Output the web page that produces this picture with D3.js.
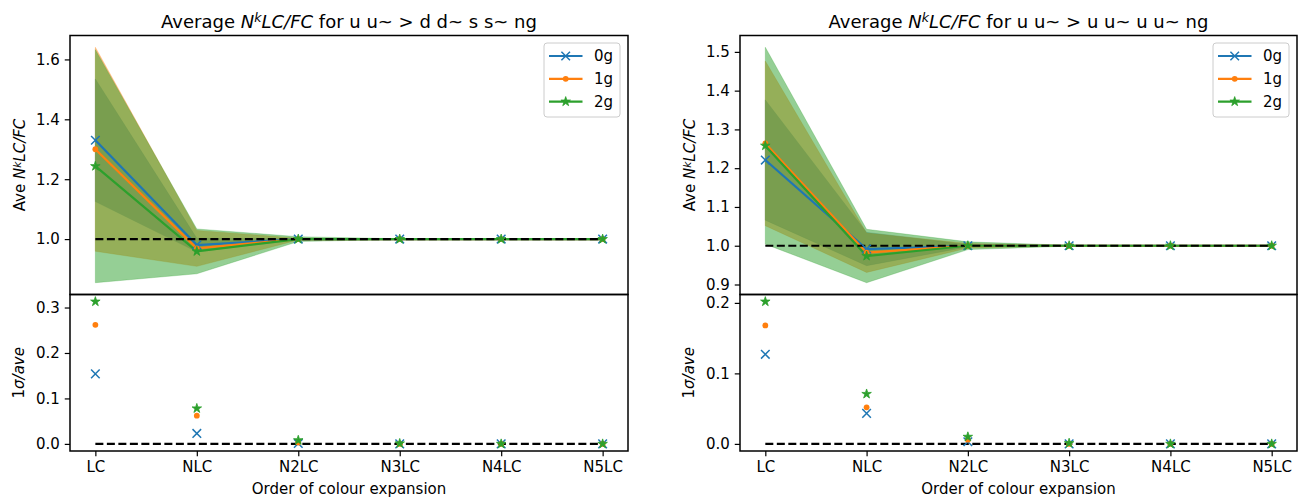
<!DOCTYPE html>
<html lang="en">
<head>
<meta charset="UTF-8">
<title>Average NkLC/FC</title>
<script src="https://d3js.org/d3.v7.min.js"></script>
<style>
  body { margin: 0; background: #fff; }
  svg text { font-family: "DejaVu Sans", sans-serif; fill: #000; }
  .tick text { font-size: 15px; }
</style>
</head>
<body>
<svg id="chart" width="1299" height="498"></svg>
<script>
const orders = ['LC', 'NLC', 'N2LC', 'N3LC', 'N4LC', 'N5LC'];
const seriesNames = ['0g', '1g', '2g'];
const colors = ['#1f77b4', '#ff7f0e', '#2ca02c'];

// u u~ > d d~ s s~ ng : average and 1 sigma / average
const ddssAve0g = [1.330, 0.980, 1.000, 1.000, 1.000, 1.000];
const ddssAve1g = [1.300, 0.969, 1.000, 1.000, 1.000, 1.000];
const ddssAve2g = [1.2435, 0.959, 1.000, 1.000, 1.000, 1.000];
const ddssRel0g = [0.154, 0.023, 0.001, 0.000, 0.000, 0.000];
const ddssRel1g = [0.262, 0.062, 0.003, 0.000, 0.000, 0.000];
const ddssRel2g = [0.313, 0.078, 0.008, 0.001, 0.000, 0.000];

// u u~ > u u~ u u~ ng
const uuuuAve0g = [1.221, 0.9915, 1.000, 1.000, 1.000, 1.000];
const uuuuAve1g = [1.264, 0.982, 1.000, 1.000, 1.000, 1.000];
const uuuuAve2g = [1.258, 0.9735, 1.000, 1.000, 1.000, 1.000];
const uuuuRel0g = [0.127, 0.0433, 0.003, 0.000, 0.000, 0.000];
const uuuuRel1g = [0.168, 0.0518, 0.006, 0.000, 0.000, 0.000];
const uuuuRel2g = [0.2018, 0.0708, 0.010, 0.001, 0.000, 0.000];

const ddssUpperTicks = [1.0, 1.2, 1.4, 1.6];
const ddssLowerTicks = [0.0, 0.1, 0.2, 0.3];
const uuuuUpperTicks = [0.9, 1.0, 1.1, 1.2, 1.3, 1.4, 1.5];
const uuuuLowerTicks = [0.0, 0.1, 0.2];

const svg = d3.select('#chart');
const top0 = 35.5, mid = 294.5, bottom = 451;

const panels = [
  { x0: 70, x1: 628, proc: 'u u~ > d d~ s s~ ng',
    ave: [ddssAve0g, ddssAve1g, ddssAve2g], rel: [ddssRel0g, ddssRel1g, ddssRel2g],
    upTicks: ddssUpperTicks, lowTicks: ddssLowerTicks },
  { x0: 740, x1: 1297, proc: 'u u~ > u u~ u u~ ng',
    ave: [uuuuAve0g, uuuuAve1g, uuuuAve2g], rel: [uuuuRel0g, uuuuRel1g, uuuuRel2g],
    upTicks: uuuuUpperTicks, lowTicks: uuuuLowerTicks }
];

function padded(lo, hi) {
  const m = (hi - lo) * 0.05;
  return [lo - m, hi + m];
}

function starPath(R) {
  const pts = [];
  for (let i = 0; i < 10; i++) {
    const a = -Math.PI / 2 + i * Math.PI / 5;
    const r = i % 2 === 0 ? R : R * 0.381966;
    pts.push([r * Math.cos(a), r * Math.sin(a)]);
  }
  return 'M' + pts.map(p => p.join(',')).join('L') + 'Z';
}

// draw one marker of series k at (cx, cy)
function marker(g, k, cx, cy) {
  if (k === 0) {
    const s = 4.3;
    g.append('path')
      .attr('d', `M${cx - s},${cy - s}L${cx + s},${cy + s}M${cx - s},${cy + s}L${cx + s},${cy - s}`)
      .attr('stroke', colors[0]).attr('stroke-width', 1.5).attr('fill', 'none');
  } else if (k === 1) {
    g.append('circle').attr('cx', cx).attr('cy', cy).attr('r', 2.9).attr('fill', colors[1]);
  } else {
    g.append('path').attr('d', starPath(5)).attr('transform', `translate(${cx},${cy})`)
      .attr('fill', colors[2]).attr('stroke', colors[2]).attr('stroke-width', 0.8);
  }
}

function mathLabel(t, parts) {
  // parts: [text, italic, superscript]
  parts.forEach(([s, it, sup], i) => {
    const ts = t.append('tspan').text(s);
    if (it) ts.attr('font-style', 'italic');
    if (sup) ts.attr('dy', '-0.4em').attr('font-size', '0.7em');
    if (i > 0 && parts[i - 1][2]) ts.attr('dy', '0.28em');
  });
}

panels.forEach(p => {
  const x = d3.scalePoint().domain(orders).range([p.x0, p.x1]).padding(0.25);

  const bands = p.ave.map((a, k) => a.map((v, i) => [v * (1 - p.rel[k][i]), v * (1 + p.rel[k][i])]));
  const upLo = d3.min(bands.flat().map(d => d[0]).concat(p.ave.flat()));
  const upHi = d3.max(bands.flat().map(d => d[1]).concat(p.ave.flat()));
  const yU = d3.scaleLinear().domain(padded(upLo, upHi)).range([mid, top0]);
  const yL = d3.scaleLinear().domain(padded(0, d3.max(p.rel.flat()))).range([bottom, mid]);

  const gU = svg.append('g');
  const gL = svg.append('g');

  // bands
  bands.forEach((b, k) => {
    const area = d3.area().x((d, i) => x(orders[i])).y0(d => yU(d[0])).y1(d => yU(d[1]));
    gU.append('path').attr('d', area(b)).attr('fill', colors[k]).attr('fill-opacity', 0.5)
      .attr('stroke', colors[k]).attr('stroke-opacity', 0.5).attr('stroke-width', 0.5);
  });
  // lines
  p.ave.forEach((a, k) => {
    const line = d3.line().x((d, i) => x(orders[i])).y(d => yU(d));
    gU.append('path').attr('d', line(a)).attr('fill', 'none')
      .attr('stroke', colors[k]).attr('stroke-width', 2.2);
  });
  // reference line
  gU.append('line').attr('x1', x(orders[0])).attr('x2', x(orders[orders.length - 1]))
    .attr('y1', yU(1)).attr('y2', yU(1)).attr('stroke', '#000').attr('stroke-width', 2.2)
    .attr('stroke-dasharray', '8,3.5');
  p.ave.forEach((a, k) => a.forEach((v, i) => marker(gU, k, x(orders[i]), yU(v))));

  // lower
  gL.append('line').attr('x1', x(orders[0])).attr('x2', x(orders[orders.length - 1]))
    .attr('y1', yL(0)).attr('y2', yL(0)).attr('stroke', '#000').attr('stroke-width', 2.2)
    .attr('stroke-dasharray', '8,3.5');
  p.rel.forEach((r, k) => r.forEach((v, i) => marker(gL, k, x(orders[i]), yL(v))));

  // axes
  const axU = svg.append('g').attr('transform', `translate(${p.x0},0)`)
    .call(d3.axisLeft(yU).tickValues(p.upTicks).tickFormat(d3.format('.1f')).tickSize(5.25).tickPadding(5));
  const axL = svg.append('g').attr('transform', `translate(${p.x0},0)`)
    .call(d3.axisLeft(yL).tickValues(p.lowTicks).tickFormat(d3.format('.1f')).tickSize(5.25).tickPadding(5));
  const axX = svg.append('g').attr('transform', `translate(0,${bottom})`)
    .call(d3.axisBottom(x).tickSize(5.25).tickPadding(5));
  [axU, axL, axX].forEach(a => {
    a.select('.domain').remove();
    a.selectAll('.tick line').attr('stroke-width', 1.2);
    a.selectAll('.tick text').attr('font-family', '"DejaVu Sans", sans-serif');
  });

  // spines
  [[top0, mid], [mid, bottom]].forEach(([a, b]) => {
    svg.append('rect').attr('x', p.x0).attr('y', a).attr('width', p.x1 - p.x0).attr('height', b - a)
      .attr('fill', 'none').attr('stroke', '#000').attr('stroke-width', 1.5);
  });

  // title
  const title = svg.append('text').attr('x', (p.x0 + p.x1) / 2).attr('y', 27.5)
    .attr('text-anchor', 'middle').attr('font-size', 18);
  mathLabel(title, [['Average ', false, false], ['N', true, false], ['k', true, true],
    ['LC/FC', true, false], [' for ' + p.proc, false, false]]);

  // y labels
  const yl1 = svg.append('text').attr('transform', `translate(${p.x0 - 45},${(top0 + mid) / 2}) rotate(-90)`)
    .attr('text-anchor', 'middle').attr('font-size', 15);
  mathLabel(yl1, [['Ave ', false, false], ['N', true, false], ['k', true, true], ['LC/FC', true, false]]);
  const yl2 = svg.append('text').attr('transform', `translate(${p.x0 - 46},${(mid + bottom) / 2}) rotate(-90)`)
    .attr('text-anchor', 'middle').attr('font-size', 15);
  mathLabel(yl2, [['1', false, false], ['σ/ave', true, false]]);

  // x label
  svg.append('text').attr('x', (p.x0 + p.x1) / 2).attr('y', 494).attr('text-anchor', 'middle')
    .attr('font-size', 15).text('Order of colour expansion');

  // legend
  const lx = p.x1 - 84, ly = top0 + 7.5;
  const lg = svg.append('g').attr('transform', `translate(${lx},${ly})`);
  lg.append('rect').attr('width', 76).attr('height', 74).attr('rx', 3)
    .attr('fill', '#fff').attr('fill-opacity', 0.8).attr('stroke', '#cccccc').attr('stroke-width', 1);
  seriesNames.forEach((n, k) => {
    const ey = 13 + k * 22.8;
    lg.append('line').attr('x1', 5).attr('x2', 38.5).attr('y1', ey).attr('y2', ey)
      .attr('stroke', colors[k]).attr('stroke-width', 2.2);
    marker(lg, k, 21.7, ey);
    lg.append('text').attr('x', 50).attr('y', ey + 5.4).attr('font-size', 15).text(n);
  });
});
</script>
</body>
</html>
